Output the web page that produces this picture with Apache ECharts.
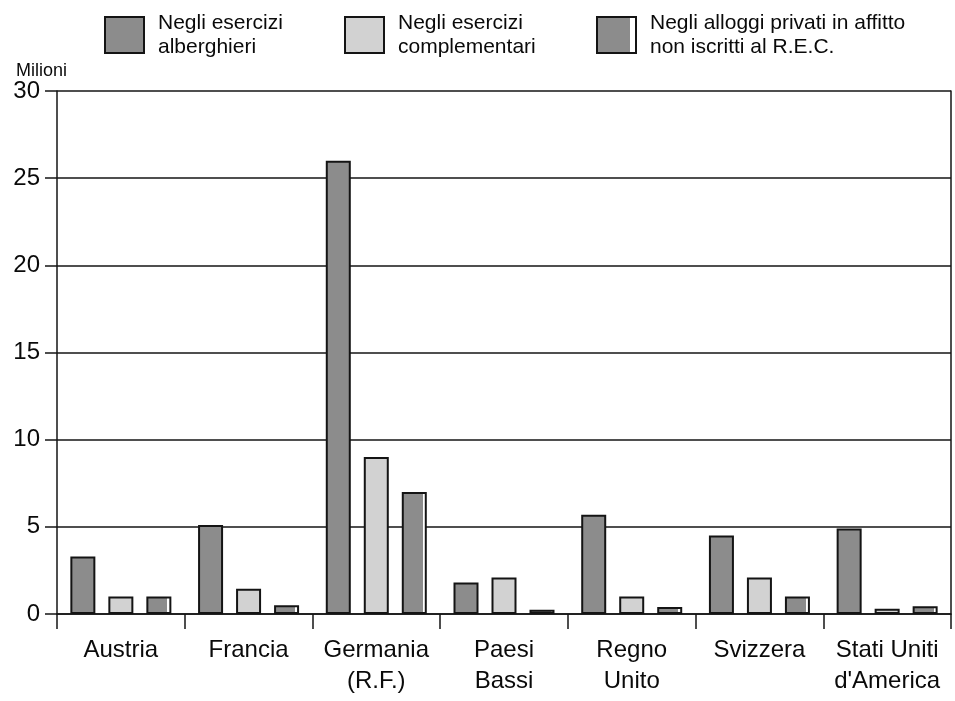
<!DOCTYPE html>
<html>
<head>
<meta charset="utf-8">
<script src="https://cdn.jsdelivr.net/npm/echarts@6/dist/echarts.min.js"></script>
<style>
html,body{margin:0;padding:0;background:#fff;}
#chart{width:955px;height:701px;}
</style>
</head>
<body>
<div id="chart"></div>
<script>
// Data
var categories = ['Austria', 'Francia', 'Germania\n(R.F.)', 'Paesi\nBassi', 'Regno\nUnito', 'Svizzera', 'Stati Uniti\nd\'America'];
var seriesNames = ['Negli esercizi alberghieri', 'Negli esercizi complementari', 'Negli alloggi privati in affitto non iscritti al R.E.C.'];
var legendLabels = ['Negli esercizi\nalberghieri', 'Negli esercizi\ncomplementari', 'Negli alloggi privati in affitto\nnon iscritti al R.E.C.'];
var alberghieri = [3.3, 5.1, 26.0, 1.8, 5.7, 4.5, 4.9];
var complementari = [1.0, 1.45, 9.0, 2.1, 1.0, 2.1, 0.3];
var alloggiPrivati = [1.0, 0.5, 7.0, 0.25, 0.4, 1.0, 0.45];
var yTicks = [0, 5, 10, 15, 20, 25, 30];

var FONT = '"Liberation Sans", Arial, Helvetica, sans-serif';
var BORDER = '#141414';
var TEXT = '#0a0a0a';
var DARK = '#8c8c8c';
var LIGHT = '#d2d2d2';
var stripeFill = new echarts.graphic.LinearGradient(0, 0, 1, 0, [
  {offset: 0, color: DARK}, {offset: 0.84, color: DARK},
  {offset: 0.84, color: '#ffffff'}, {offset: 1, color: '#ffffff'}
]);

var chart = echarts.init(document.getElementById('chart'), null, {renderer: 'canvas'});

function legendFor(i, left) {
  return {
    data: [{name: seriesNames[i], icon: 'rect'}],
    left: left, top: 6,
    orient: 'horizontal',
    itemWidth: 39, itemHeight: 36, itemGap: 12,
    selectedMode: false,
    formatter: function () { return legendLabels[i]; },
    textStyle: {fontFamily: FONT, fontSize: 21, color: TEXT, lineHeight: 24, padding: [0, 0, 0, 9]}
  };
}

var option = {
  animation: false,
  backgroundColor: '#ffffff',
  title: {
    text: 'Milioni', left: 11, top: 57,
    textStyle: {fontFamily: FONT, fontSize: 18, fontWeight: 'normal', color: TEXT}
  },
  legend: [legendFor(0, 99), legendFor(1, 339), legendFor(2, 591)],
  grid: {left: 57, right: 4, top: 91, bottom: 87, containLabel: false},
  xAxis: {
    type: 'category',
    data: categories,
    boundaryGap: true,
    axisLine: {show: true, lineStyle: {color: BORDER, width: 1.5}},
    axisTick: {show: true, alignWithLabel: false, length: 15, lineStyle: {color: BORDER, width: 1.5}},
    axisLabel: {fontFamily: FONT, fontSize: 24, color: TEXT, lineHeight: 31, margin: 21, interval: 0}
  },
  yAxis: [{
    type: 'value',
    min: 0, max: 30, interval: 5,
    axisLine: {show: true, lineStyle: {color: BORDER, width: 1.5}},
    axisTick: {show: true, length: 12, lineStyle: {color: BORDER, width: 1.5}},
    axisLabel: {
      fontFamily: FONT, fontSize: 24, color: TEXT, margin: 17,
      formatter: function (v) { return yTicks.indexOf(v) >= 0 ? String(v) : ''; }
    },
    splitLine: {show: true, lineStyle: {color: BORDER, width: 1.5}}
  }, {
    type: 'value', position: 'right',
    min: 0, max: 30, interval: 5,
    axisLine: {show: true, lineStyle: {color: BORDER, width: 1.5}},
    axisTick: {show: false}, axisLabel: {show: false}, splitLine: {show: false}
  }],
  series: [{
    name: seriesNames[0], type: 'bar', data: alberghieri,
    barWidth: 25, barGap: '52%',
    itemStyle: {color: DARK, borderColor: BORDER, borderWidth: 2}
  }, {
    name: seriesNames[1], type: 'bar', data: complementari,
    barWidth: 25, barGap: '52%',
    itemStyle: {color: LIGHT, borderColor: BORDER, borderWidth: 2}
  }, {
    name: seriesNames[2], type: 'bar', data: alloggiPrivati,
    barWidth: 25, barGap: '52%',
    itemStyle: {color: stripeFill, borderColor: BORDER, borderWidth: 2}
  }]
};
chart.setOption(option);
</script>
</body>
</html>
